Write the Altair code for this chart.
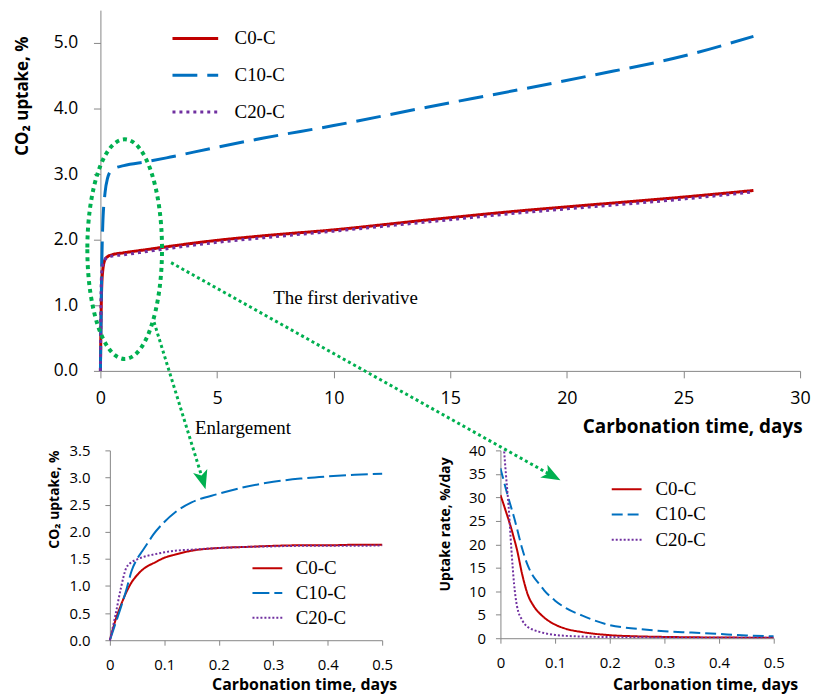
import altair as alt
import pandas as pd

series = ["C0-C", "C10-C", "C20-C"]
colors = ["#C00000", "#0070C0", "#7030A0"]

# ---- main chart (0-28 days) ----
main_days = [0, 0.02, 0.05, 0.1, 0.2, 0.3, 0.5, 1, 2, 3, 5, 7, 10, 14, 18, 21, 25, 28]
main_c0 = [0, 0.62, 1.22, 1.53, 1.70, 1.74, 1.77, 1.80, 1.85, 1.90, 1.99, 2.06, 2.15, 2.30, 2.44, 2.53, 2.65, 2.75]
main_c10 = [0, 0.60, 1.45, 2.22, 2.72, 2.93, 3.07, 3.13, 3.19, 3.26, 3.41, 3.55, 3.74, 4.02, 4.29, 4.50, 4.80, 5.10]
main_c20 = [0, 0.95, 1.48, 1.62, 1.70, 1.73, 1.75, 1.77, 1.82, 1.87, 1.96, 2.03, 2.13, 2.27, 2.41, 2.50, 2.62, 2.73]

# ---- enlargement (0-0.5 days) ----
enl_days = [0, 0.01, 0.02, 0.03, 0.04, 0.05, 0.06, 0.07, 0.08, 0.1, 0.12, 0.15, 0.2, 0.25, 0.3, 0.35, 0.4, 0.45, 0.5]
enl_c0 = [0, 0.36, 0.64, 0.88, 1.07, 1.20, 1.30, 1.37, 1.42, 1.52, 1.58, 1.65, 1.70, 1.72, 1.74, 1.75, 1.75, 1.76, 1.76]
enl_c10 = [0, 0.30, 0.60, 0.92, 1.28, 1.50, 1.65, 1.80, 1.95, 2.18, 2.36, 2.54, 2.70, 2.83, 2.92, 2.98, 3.02, 3.05, 3.07]
enl_c20 = [0, 0.45, 0.95, 1.33, 1.44, 1.49, 1.53, 1.56, 1.58, 1.62, 1.65, 1.67, 1.70, 1.72, 1.73, 1.74, 1.74, 1.74, 1.75]

# ---- first derivative (uptake rate) ----
rate_days = [0, 0.005, 0.01, 0.015, 0.02, 0.025, 0.03, 0.04, 0.05, 0.06, 0.07, 0.08, 0.1, 0.12, 0.15, 0.2, 0.25, 0.3, 0.35, 0.4, 0.45, 0.5]
rate_c0 = [30.5, 28.8, 27.0, 25.2, 23.3, 21.2, 19.0, 13.5, 9.3, 7.0, 5.5, 4.4, 2.9, 2.0, 1.3, 0.65, 0.4, 0.28, 0.2, 0.15, 0.12, 0.1]
rate_c10 = [36.2, 34.0, 31.8, 29.7, 27.7, 25.7, 23.5, 19.0, 15.5, 13.2, 11.7, 10.2, 8.0, 6.4, 4.8, 2.8, 2.0, 1.5, 1.2, 0.9, 0.6, 0.4]
rate_c20 = [55.0, 43.0, 35.0, 28.0, 19.0, 11.5, 7.0, 3.8, 2.4, 1.8, 1.4, 1.1, 0.7, 0.5, 0.35, 0.25, 0.2, 0.15, 0.12, 0.1, 0.1, 0.1]

# ---- annotations (in main-chart data units) ----
ellipse_t = [1.04]
ellipse_v = [1.856]
arrow_id = ["a1", "a1", "a2", "a2"]
arrow_t = [2.30, 4.38, 3.03, 19.33]
arrow_v = [0.742, -1.65, 1.65, -1.59]
head_t = [4.38, 19.33]
head_v = [-1.65, -1.59]
head_angle = [163.7, 119.0]
note_t = [7.41, 4.05]
note_v = [1.106, -0.864]
note_text = ["The first derivative", "Enlargement"]

GREEN = "#00B050"
AXIS_GRAY = "#868686"
SANS = "Open Sans"
SERIF = "Liberation Serif"
ELLIPSE = "M-0.34,0A0.34,1,0,1,0,0.34,0A0.34,1,0,1,0,-0.34,0Z"
STEALTH = "M0,-1L0.7,0.8L0,0.35L-0.7,0.8Z"
LEG_SYMBOL = "M-3,0H3"


def long_df(days, vals):
    rows = []
    for s, v in zip(series, vals):
        for d, y in zip(days, v):
            rows.append({"t": d, "v": y, "s": s})
    return pd.DataFrame(rows)


df_main = long_df(main_days, [main_c0, main_c10, main_c20])
df_enl = long_df(enl_days, [enl_c0, enl_c10, enl_c20])
df_rate = long_df(rate_days, [rate_c0, rate_c10, rate_c20])

# ---------------- main chart ----------------
xm = alt.X("t:Q", scale=alt.Scale(domain=[0, 30], nice=False),
           axis=alt.Axis(values=[0, 5, 10, 15, 20, 25, 30], format="d", grid=False,
                         tickSize=7, labelPadding=12, labelFlush=False,
                         labelFont=SANS, labelFontSize=18, labelColor="#000",
                         domainColor=AXIS_GRAY, tickColor=AXIS_GRAY,
                         title="Carbonation time, days", titleFont=SANS, titleFontSize=19,
                         titleFontWeight="bold", titleColor="#000",
                         titleX=706, titleY=56, titleAlign="right", titleBaseline="middle"))
ym = alt.Y("v:Q", scale=alt.Scale(domain=[0, 5.5], nice=False),
           axis=alt.Axis(values=[0, 1, 2, 3, 4, 5], format=".1f", grid=False,
                         tickSize=7, labelPadding=16,
                         labelFont=SANS, labelFontSize=17.5, labelColor="#000",
                         domainColor=AXIS_GRAY, tickColor=AXIS_GRAY,
                         title="CO₂ uptake, %", titleFont=SANS, titleFontSize=17,
                         titleFontWeight="bold", titleColor="#000",
                         titleX=-78, titleY=86, titleAngle=270,
                         titleAlign="center", titleBaseline="middle"))

main_legend = alt.Legend(orient="none", legendX=86, legendY=19, title=None,
                         symbolType=LEG_SYMBOL, symbolSize=235, symbolStrokeWidth=3,
                         labelFont=SERIF, labelFontSize=19, labelColor="#000",
                         labelOffset=30, rowPadding=17, padding=0)

main_lines = alt.Chart(df_main).mark_line(strokeWidth=3, interpolate="monotone").encode(
    x=xm, y=ym,
    color=alt.Color("s:N", scale=alt.Scale(domain=series, range=colors), legend=main_legend),
    strokeDash=alt.StrokeDash("s:N", scale=alt.Scale(domain=series, range=[[1, 0], [25, 10], [3, 4]]),
                              legend=main_legend),
)

ellipse = alt.Chart(pd.DataFrame({"t": ellipse_t, "v": ellipse_v})).mark_point(
    shape=ELLIPSE, size=48841, filled=False, stroke=GREEN, strokeWidth=4,
    strokeDash=[4, 4], opacity=1).encode(x=xm, y=ym)

arrows = alt.Chart(pd.DataFrame({"t": arrow_t, "v": arrow_v, "a": arrow_id})).mark_line(
    stroke=GREEN, strokeWidth=3, strokeDash=[3, 3]).encode(x=xm, y=ym, detail="a:N")

heads = alt.Chart(pd.DataFrame({"t": head_t, "v": head_v, "ang": head_angle})).mark_point(
    shape=STEALTH, size=450, filled=True, fill=GREEN, strokeWidth=0, opacity=1).encode(
    x=xm, y=ym, angle=alt.Angle("ang:Q", scale=None))

notes = alt.Chart(pd.DataFrame({"t": note_t, "v": note_v, "txt": note_text})).mark_text(
    font=SERIF, fontSize=19, align="left", baseline="middle", color="#000").encode(
    x=xm, y=ym, text="txt:N")

main = alt.layer(main_lines, ellipse, arrows, heads, notes).properties(width=704, height=363)


# ---------------- insets ----------------
def inset_x(title_x, title_y):
    return alt.X("t:Q", scale=alt.Scale(domain=[0, 0.5], nice=False),
                 axis=alt.Axis(values=[0, 0.1, 0.2, 0.3, 0.4, 0.5],
                               labelExpr="datum.value == 0 ? '0' : format(datum.value, '.1f')",
                               grid=False, tickSize=5, labelPadding=12, labelFlush=False,
                               labelFont=SANS, labelFontSize=15, labelColor="#000",
                               domainColor=AXIS_GRAY, tickColor=AXIS_GRAY,
                               title="Carbonation time, days", titleFont=SANS, titleFontSize=16,
                               titleFontWeight="bold", titleColor="#000",
                               titleX=title_x, titleY=title_y, titleAlign="right",
                               titleBaseline="middle"))


def inset_legend(lx, ly, offset, rowpad):
    return alt.Legend(orient="none", legendX=lx, legendY=ly, title=None,
                      symbolType=LEG_SYMBOL, symbolSize=100, symbolStrokeWidth=2,
                      labelFont=SERIF, labelFontSize=19, labelColor="#000",
                      labelOffset=offset, rowPadding=rowpad, padding=0)


leg1 = inset_legend(149, 109, 19, 5)
enl = alt.Chart(df_enl).mark_line(strokeWidth=2, interpolate="monotone").encode(
    x=inset_x(288.5, 45),
    y=alt.Y("v:Q", scale=alt.Scale(domain=[0, 3.5], nice=False),
            axis=alt.Axis(values=[0, 0.5, 1, 1.5, 2, 2.5, 3, 3.5], format=".1f", grid=False,
                          tickSize=5, labelPadding=15,
                          labelFont=SANS, labelFontSize=15, labelColor="#000",
                          domainColor=AXIS_GRAY, tickColor=AXIS_GRAY,
                          title="CO₂ uptake, %", titleFont=SANS, titleFontSize=14,
                          titleFontWeight="bold", titleColor="#000",
                          titleX=-55.5, titleY=49, titleAngle=270,
                          titleAlign="center", titleBaseline="middle")),
    color=alt.Color("s:N", scale=alt.Scale(domain=series, range=colors), legend=leg1),
    strokeDash=alt.StrokeDash("s:N", scale=alt.Scale(domain=series, range=[[1, 0], [17, 5], [2, 2]]),
                              legend=leg1),
).properties(width=274, height=191)

leg2 = inset_legend(117.5, 29.5, 19.5, 5.5)
rate = alt.Chart(df_rate).mark_line(strokeWidth=2, interpolate="monotone", clip=True).encode(
    x=inset_x(299, 47),
    y=alt.Y("v:Q", scale=alt.Scale(domain=[0, 40], nice=False),
            axis=alt.Axis(values=[0, 5, 10, 15, 20, 25, 30, 35, 40], format="d", grid=False,
                          tickSize=5, labelPadding=10,
                          labelFont=SANS, labelFontSize=15, labelColor="#000",
                          domainColor=AXIS_GRAY, tickColor=AXIS_GRAY,
                          title="Uptake rate, %/day", titleFont=SANS, titleFontSize=14,
                          titleFontWeight="bold", titleColor="#000",
                          titleX=-55.5, titleY=74, titleAngle=270,
                          titleAlign="center", titleBaseline="middle")),
    color=alt.Color("s:N", scale=alt.Scale(domain=series, range=colors), legend=leg2),
    strokeDash=alt.StrokeDash("s:N", scale=alt.Scale(domain=series, range=[[1, 0], [11, 5], [2, 2]]),
                              legend=leg2),
).properties(width=275, height=189)

spacer = alt.Chart(pd.DataFrame({"t": [0], "v": [0]})).mark_point(opacity=0).encode(
    x=alt.value(0), y=alt.value(0)).properties(width=1, height=1)

indep = dict(x="independent", y="independent", color="independent", strokeDash="independent")
indep_leg = dict(color="independent", strokeDash="independent")

insets = alt.hconcat(enl, rate, spacing=119, bounds="flush").resolve_scale(**indep).resolve_legend(**indep_leg)
bottom = alt.hconcat(spacer, insets, spacing=8.5, bounds="flush").resolve_scale(**indep).resolve_legend(**indep_leg)

chart = alt.vconcat(main, bottom, spacing=80, bounds="flush").resolve_scale(**indep).resolve_legend(
    **indep_leg).properties(
    padding={"left": 6, "top": 0, "right": 0, "bottom": 2}
).configure_view(strokeWidth=0)

chart.save("out.html", embed_options={"renderer": "svg", "actions": False})
